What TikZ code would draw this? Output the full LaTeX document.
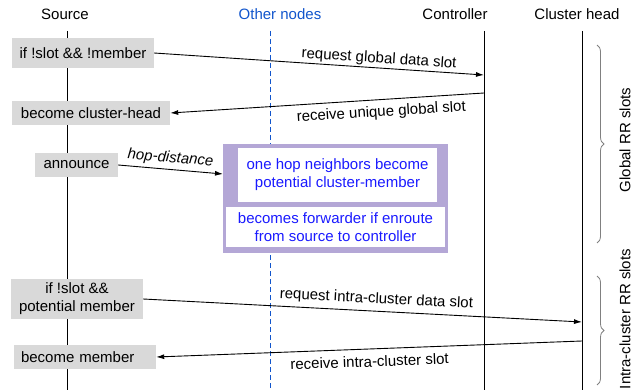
\documentclass[tikz,border=0pt]{standalone}
\usepackage{fontspec}
\setmainfont{Liberation Sans}
\usetikzlibrary{arrows.meta,decorations.pathreplacing}
\definecolor{boxgray}{HTML}{D9D9D9}
\definecolor{nbrpurple}{HTML}{B4A7D6}
\definecolor{hdrblue}{HTML}{1155CC}
\definecolor{txtblue}{HTML}{1A1AFF}

\begin{document}
\begin{tikzpicture}[x=1pt,y=-1pt,
	every node/.style={font=\fontsize{15}{18}\selectfont},
	life/.style={line width=1pt},
	stepbox/.style={fill=boxgray, inner sep=0pt, align=center},
	hopbox/.style={fill=white, inner sep=0pt, align=center, text=txtblue},
	msg/.style={-{Latex[length=8pt,width=5pt]}, line width=0.9pt},
	lbl/.style={sloped, inner sep=1.5pt},
	slotbrace/.style={decorate, decoration={brace, amplitude=7pt}, draw=gray, line width=0.8pt}]
			\useasboundingbox (0,0) rectangle (642,390);
			%Headers
			\node (src) at (65,14) {Source};
			\node[text=hdrblue] (oth) at (280,14) {Other nodes};
			\node (ctl) at (455,14) {Controller};
			\node (chd) at (577,14) {Cluster head};
			%Lifelines
			\draw[life] (67,31) -- (67,390);
			\draw[life, hdrblue, dash pattern=on 5pt off 3pt] (270,31) -- (270,390);
			\draw[life] (484,31) -- (484,390);
			\draw[life] (582,31) -- (582,390);
			\coordinate (ctlin) at (484,75);
			\coordinate (ctlout) at (484,93);
			\coordinate (chdin) at (582,322);
			\coordinate (chdout) at (582,341);
			\coordinate (hopin) at (223,174);
			%Source steps
			\node[stepbox, minimum width=142pt, minimum height=30pt] (reqg) at (83,53) {if !slot \&\& !member};
			\node[stepbox, minimum width=158pt, minimum height=24pt] (head) at (91,113) {become cluster-head};
			\node[stepbox, minimum width=83pt, minimum height=24pt] (ann) at (76.5,165) {announce};
			\node[stepbox, minimum width=132pt, minimum height=40pt] (reqc) at (77,299) {if !slot \&\&\\potential member};
			\node[stepbox, text width=128pt, align=left, inner xsep=7pt, minimum height=24pt] (mem) at (85,357) {become member};
			%Neighbour box
			\node[fill=nbrpurple, minimum width=225pt, minimum height=109pt, inner sep=0pt] (nbr) at (335.5,198.5) {};
			\node[hopbox, minimum width=199pt, minimum height=54pt] (hop1) at (337.5,175) {one hop neighbors become\\potential cluster-member};
			\node[hopbox, minimum width=219pt, minimum height=40pt] (hop2) at (335.5,227) {becomes forwarder if enroute\\from source to controller};
			%Messages
			\draw[msg] (reqg.east) -- node[lbl, above, pos=0.68] {request global data slot} (ctlin);
			\draw[msg] (ctlout) -- node[lbl, below=4pt, pos=0.33] {receive unique global slot} (head.east);
			\draw[msg] (ann.east) -- node[lbl, above=2pt, pos=0.49, font=\fontsize{15}{18}\selectfont\itshape] {hop-distance} (hopin);
			\draw[msg] (reqc.east) -- node[lbl, above=3pt, pos=0.53] {request intra-cluster data slot} (chdin);
			\draw[msg] (chdout) -- node[lbl, below=5pt, pos=0.5] {receive intra-cluster slot} (mem.east);
			%Slot braces
			\draw[slotbrace] (597,45) -- (597,243);
			\node[rotate=90] (glb) at (625,140) {Global RR slots};
			\draw[slotbrace] (597,276) -- (597,385);
			\node[rotate=90] (intra) at (625,319) {Intra-cluster RR slots};
\end{tikzpicture}
\end{document}
